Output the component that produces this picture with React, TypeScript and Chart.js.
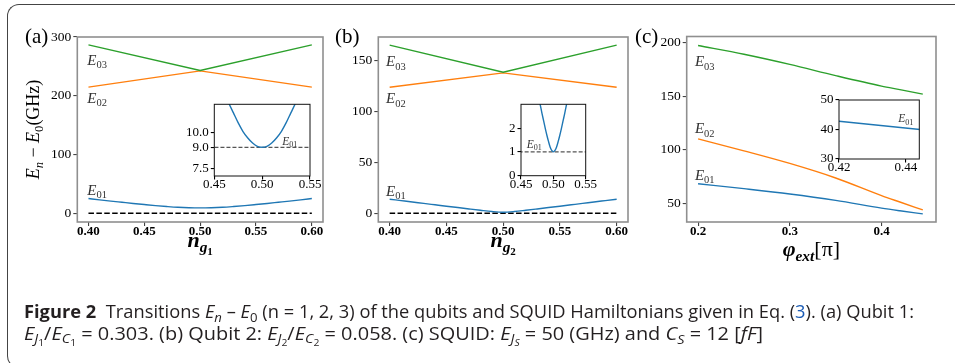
import React, { useEffect, useLayoutEffect, useRef } from 'react';
import { Chart, registerables } from 'chart.js';

Chart.register(...registerables);

const W = 955;
const H = 363;
const SERIF = "'Liberation Serif', 'Times New Roman', serif";
const BLUE = '#1f77b4';
const ORANGE = '#ff7f0e';
const GREEN = '#2ca02c';

// ---------------- data ----------------
const ngGrid = [0.40, 0.41, 0.42, 0.43, 0.44, 0.45, 0.46, 0.47, 0.48, 0.49, 0.50, 0.51, 0.52, 0.53, 0.54, 0.55, 0.56, 0.57, 0.58, 0.59, 0.60];
const ngEnds = [0.40, 0.50, 0.60];
const qubit1E01 = [24.9, 22.7, 20.6, 18.6, 16.6, 14.7, 12.9, 11.4, 10.1, 9.3, 9.0, 9.3, 10.1, 11.4, 12.9, 14.7, 16.6, 18.6, 20.6, 22.7, 24.9];
const qubit1E02 = [214.6, 242.3, 214.6];
const qubit1E03 = [286.7, 243.0, 286.7];
const qubit2E01 = [13.83, 12.46, 11.09, 9.71, 8.34, 6.97, 5.61, 4.26, 2.94, 1.70, 1.0, 1.70, 2.94, 4.26, 5.61, 6.97, 8.34, 9.71, 11.09, 12.46, 13.83];
const qubit2E02 = [124.0, 138.2, 124.0];
const qubit2E03 = [165.5, 138.8, 165.5];
const groundLevel = [0, 0, 0];

const ngZoom1 = [0.450, 0.455, 0.460, 0.465, 0.470, 0.475, 0.480, 0.485, 0.490, 0.495, 0.500, 0.505, 0.510, 0.515, 0.520, 0.525, 0.530, 0.535, 0.540, 0.545, 0.550];
const qubit1E01Zoom = [14.7, 13.8, 12.9, 12.1, 11.4, 10.7, 10.1, 9.65, 9.3, 9.07, 9.0, 9.07, 9.3, 9.65, 10.1, 10.7, 11.4, 12.1, 12.9, 13.8, 14.7];
const qubit1Gap = [9.0, 9.0, 9.0];
const ngZoom2 = [0.4700, 0.4725, 0.4750, 0.4775, 0.4800, 0.4825, 0.4850, 0.4875, 0.4900, 0.4925, 0.4950, 0.4975, 0.5000, 0.5025, 0.5050, 0.5075, 0.5100, 0.5125, 0.5150, 0.5175, 0.5200, 0.5225, 0.5250, 0.5275, 0.5300];
const qubit2E01Zoom = [4.26, 3.92, 3.59, 3.26, 2.94, 2.61, 2.30, 1.99, 1.70, 1.44, 1.21, 1.06, 1.0, 1.06, 1.21, 1.44, 1.70, 1.99, 2.30, 2.61, 2.94, 3.26, 3.59, 3.92, 4.26];
const qubit2Gap = [1.0, 1.0, 1.0];

const phiExt = [0.20, 0.25, 0.30, 0.35, 0.40, 0.42, 0.445];
const squidE01 = [68.1, 63.5, 58.5, 52.5, 45.3, 42.8, 39.9];
const squidE02 = [110.1, 98.9, 87.1, 73.5, 57.0, 51.0, 43.6];
const squidE03 = [197.5, 189.3, 179.8, 169.3, 159.5, 156.2, 152.0];

// ---------------- ticks ----------------
const ngTicks = [0.40, 0.45, 0.50, 0.55, 0.60];
const phiTicks = [0.2, 0.3, 0.4];
const qubit1Ticks = [0, 100, 200, 300];
const qubit2Ticks = [0, 50, 100, 150];
const squidTicks = [50, 100, 150, 200];
const zoomNgTicks = [0.45, 0.50, 0.55];
const zoom1Ticks = [7.5, 9.0, 10.0];
const zoom2Ticks = [0, 1, 2];
const zoomPhiTicks = [0.42, 0.44];
const zoomSquidTicks = [30, 40, 50];

// ---------------- helpers ----------------
type Seg = { t: string; it?: boolean; b?: boolean; lv?: number };
type Label = { x: number; y: number; segs: Seg[]; size: number; color?: string };

function drawRich(ctx: CanvasRenderingContext2D, segs: Seg[], x: number, y: number, size: number, align: string, color = '#000') {
  const scale = [1, 0.7, 0.5];
  const shift = [0, 0.22, 0.36];
  const font = (s: Seg) => `${s.it ? 'italic ' : ''}${s.b ? 'bold ' : ''}${(size * scale[s.lv || 0]).toFixed(2)}px ${SERIF}`;
  let total = 0;
  const ws = segs.map((s) => {
    ctx.font = font(s);
    const w = ctx.measureText(s.t).width;
    total += w;
    return w;
  });
  let cx = align === 'center' ? x - total / 2 : align === 'right' ? x - total : x;
  ctx.save();
  ctx.fillStyle = color;
  ctx.textAlign = 'left';
  ctx.textBaseline = 'alphabetic';
  segs.forEach((s, i) => {
    ctx.font = font(s);
    ctx.fillText(s.t, cx, y + shift[s.lv || 0] * size);
    cx += ws[i];
  });
  ctx.restore();
}

const line = (xs: number[], ys: number[], color: string, extra: any = {}) => ({
  data: xs.map((x, i) => ({ x, y: ys[i] })),
  borderColor: color,
  borderWidth: 1.4,
  pointRadius: 0,
  fill: false,
  tension: 0,
  ...extra,
});
const smooth = { cubicInterpolationMode: 'monotone' };
const dashMain = { borderDash: [5.5, 2.4], borderWidth: 1.5 };
const dashInset = { borderDash: [4, 2], borderWidth: 1.3 };

type Spec = {
  box: number[];
  yW: number;
  xH: number;
  xr: number[];
  yr: number[];
  xTicks: number[];
  yTicks: number[];
  xDec: number;
  yDec: number;
  inset: boolean;
  datasets: any[];
  labels: Label[];
  decor?: (ctx: CanvasRenderingContext2D, a: any) => void;
};

function buildConfig(spec: Spec): any {
  const [l, t, r, b] = spec.box;
  const inset = spec.inset;
  const xFont = inset ? { family: SERIF, size: 13 } : { family: SERIF, size: 13, weight: 'bold' };
  const yFont = inset ? { family: SERIF, size: 13 } : { family: SERIF, size: 13.5 };
  const tickColor = inset ? '#000' : '#444';
  const plugin = {
    id: 'panelDecor',
    beforeDraw(chart: any) {
      if (!inset) return;
      const a = chart.chartArea;
      const ctx = chart.ctx;
      ctx.save();
      ctx.fillStyle = '#fff';
      ctx.fillRect(a.left, a.top, a.right - a.left, a.bottom - a.top);
      ctx.restore();
    },
    afterDatasetsDraw(chart: any) {
      const a = chart.chartArea;
      const ctx = chart.ctx;
      ctx.save();
      ctx.strokeStyle = inset ? '#111' : '#8f8f8f';
      ctx.lineWidth = inset ? 1 : 1.6;
      ctx.strokeRect(a.left, a.top, a.right - a.left, a.bottom - a.top);
      ctx.restore();
    },
    afterDraw(chart: any) {
      const ctx = chart.ctx;
      const xs = chart.scales.x;
      const ys = chart.scales.y;
      spec.labels.forEach((lb) => {
        const px = xs.getPixelForValue(lb.x);
        const py = ys.getPixelForValue(lb.y);
        drawRich(ctx, lb.segs, px, py + 0.33 * lb.size, lb.size, 'left', lb.color || '#333');
      });
      if (spec.decor) spec.decor(ctx, chart.chartArea);
    },
  };
  return {
    type: 'line',
    data: { datasets: spec.datasets },
    options: {
      responsive: false,
      animation: false,
      devicePixelRatio: 1,
      events: [],
      layout: { padding: { left: l - spec.yW, top: t, right: W - r, bottom: H - b - spec.xH } },
      plugins: { legend: { display: false }, tooltip: { enabled: false } },
      scales: {
        x: {
          type: 'linear',
          min: spec.xr[0],
          max: spec.xr[1],
          afterBuildTicks: (s: any) => {
            s.ticks = spec.xTicks.map((v) => ({ value: v }));
          },
          afterFit: (s: any) => {
            s.height = spec.xH;
          },
          ticks: {
            callback: (v: any) => Number(v).toFixed(spec.xDec),
            autoSkip: false,
            maxRotation: 0,
            minRotation: 0,
            font: xFont,
            color: '#000',
            padding: inset ? -2.5 : -2.5,
          },
          grid: { drawOnChartArea: false, drawTicks: true, tickLength: inset ? 3.5 : 4, color: tickColor, lineWidth: 1.1 },
          border: { display: false },
        },
        y: {
          type: 'linear',
          min: spec.yr[0],
          max: spec.yr[1],
          afterBuildTicks: (s: any) => {
            s.ticks = spec.yTicks.map((v) => ({ value: v }));
          },
          afterFit: (s: any) => {
            s.width = spec.yW;
          },
          ticks: {
            callback: (v: any) => Number(v).toFixed(spec.yDec),
            autoSkip: false,
            font: yFont,
            color: '#000',
            padding: 2,
          },
          grid: { drawOnChartArea: false, drawTicks: true, tickLength: inset ? 3.5 : 4, color: tickColor, lineWidth: 1.1 },
          border: { display: false },
        },
      },
    },
    plugins: [plugin],
  };
}

const E = (sub: string): Seg[] => [{ t: 'E', it: true }, { t: sub, lv: 1 }];

const panelLabel = (ctx: CanvasRenderingContext2D, text: string, x: number) => drawRich(ctx, [{ t: text }], x, 43.3, 21, 'left', '#000');

const specs: Spec[] = [
  {
    box: [77.3, 37, 323, 222],
    yW: 40,
    xH: 20,
    xr: [0.39, 0.61],
    yr: [-15, 300],
    xTicks: ngTicks,
    yTicks: qubit1Ticks,
    xDec: 2,
    yDec: 0,
    inset: false,
    datasets: [
      line(ngEnds, qubit1E03, GREEN),
      line(ngEnds, qubit1E02, ORANGE),
      line(ngGrid, qubit1E01, BLUE, smooth),
      line(ngEnds, groundLevel, '#000', dashMain),
    ],
    labels: [
      { x: 0.399, y: 261, segs: E('03'), size: 15 },
      { x: 0.399, y: 196, segs: E('02'), size: 15 },
      { x: 0.399, y: 39.2, segs: E('01'), size: 15 },
    ],
    decor: (ctx, a) => {
      panelLabel(ctx, '(a)', 25);
      drawRich(ctx, [{ t: 'n', it: true, b: true }, { t: 'g', it: true, b: true, lv: 1 }, { t: '1', b: true, lv: 2 }], (a.left + a.right) / 2, a.bottom + 25, 22, 'center');
      ctx.save();
      ctx.translate(a.left - 38, (a.top + a.bottom) / 2);
      ctx.rotate(-Math.PI / 2);
      drawRich(ctx, [{ t: 'E', it: true }, { t: 'n', it: true, lv: 1 }, { t: ' \u2212 ' }, { t: 'E', it: true }, { t: '0', lv: 1 }, { t: '(GHz)' }], 0, 0, 18, 'center');
      ctx.restore();
    },
  },
  {
    box: [378.3, 37, 628, 222],
    yW: 40,
    xH: 20,
    xr: [0.39, 0.61],
    yr: [-8.6, 173.5],
    xTicks: ngTicks,
    yTicks: qubit2Ticks,
    xDec: 2,
    yDec: 0,
    inset: false,
    datasets: [
      line(ngEnds, qubit2E03, GREEN),
      line(ngEnds, qubit2E02, ORANGE),
      line(ngGrid, qubit2E01, BLUE, smooth),
      line(ngEnds, groundLevel, '#000', dashMain),
    ],
    labels: [
      { x: 0.3968, y: 149.6, segs: E('03'), size: 15 },
      { x: 0.3968, y: 113.2, segs: E('02'), size: 15 },
      { x: 0.3968, y: 21.8, segs: E('01'), size: 15 },
    ],
    decor: (ctx, a) => {
      panelLabel(ctx, '(b)', 335);
      drawRich(ctx, [{ t: 'n', it: true, b: true }, { t: 'g', it: true, b: true, lv: 1 }, { t: '2', b: true, lv: 2 }], (a.left + a.right) / 2, a.bottom + 25, 22, 'center');
    },
  },
  {
    box: [686.7, 36.5, 936, 222],
    yW: 40,
    xH: 20,
    xr: [0.1876, 0.4594],
    yr: [32.3, 205.9],
    xTicks: phiTicks,
    yTicks: squidTicks,
    xDec: 1,
    yDec: 0,
    inset: false,
    datasets: [
      line(phiExt, squidE03, GREEN, smooth),
      line(phiExt, squidE02, ORANGE, smooth),
      line(phiExt, squidE01, BLUE, smooth),
    ],
    labels: [
      { x: 0.1966, y: 182.6, segs: E('03'), size: 15 },
      { x: 0.1966, y: 119.8, segs: E('02'), size: 15 },
      { x: 0.1966, y: 76.2, segs: E('01'), size: 15 },
    ],
    decor: (ctx, a) => {
      panelLabel(ctx, '(c)', 635);
      drawRich(ctx, [{ t: '\u03C6', it: true, b: true }, { t: 'ext', it: true, b: true, lv: 1 }, { t: '[\u03C0]' }], (a.left + a.right) / 2, a.bottom + 34, 22, 'center');
    },
  },
  {
    box: [214.3, 104.3, 310, 176],
    yW: 30,
    xH: 18,
    xr: [0.45, 0.55],
    yr: [7.0, 12.0],
    xTicks: zoomNgTicks,
    yTicks: zoom1Ticks,
    xDec: 2,
    yDec: 1,
    inset: true,
    datasets: [line(ngZoom1, qubit1E01Zoom, BLUE, smooth), line(ngEnds, qubit1Gap, '#555', dashInset)],
    labels: [{ x: 0.521, y: 9.44, segs: E('01'), size: 11.5 }],
  },
  {
    box: [521, 104.3, 585.7, 175.7],
    yW: 20,
    xH: 18,
    xr: [0.45, 0.55],
    yr: [0, 3],
    xTicks: zoomNgTicks,
    yTicks: zoom2Ticks,
    xDec: 2,
    yDec: 0,
    inset: true,
    datasets: [line(ngZoom2, qubit2E01Zoom, BLUE, smooth), line(ngEnds, qubit2Gap, '#555', dashInset)],
    labels: [{ x: 0.4588, y: 1.33, segs: E('01'), size: 11.5 }],
  },
  {
    box: [839, 100, 919.3, 159],
    yW: 22,
    xH: 18,
    xr: [0.42, 0.444],
    yr: [30, 50],
    xTicks: zoomPhiTicks,
    yTicks: zoomSquidTicks,
    xDec: 2,
    yDec: 0,
    inset: true,
    datasets: [line(phiExt, squidE01, BLUE)],
    labels: [{ x: 0.4377, y: 43.8, segs: E('01'), size: 11.5 }],
  },
];

function ChartCanvas({ spec }: { spec: Spec }) {
  const ref = useRef<HTMLCanvasElement>(null);
  useEffect(() => {
    const chart = new Chart(ref.current as HTMLCanvasElement, buildConfig(spec));
    return () => chart.destroy();
  }, [spec]);
  return <canvas ref={ref} width={W} height={H} style={{ position: 'absolute', left: 0, top: 0, width: W, height: H }} />;
}

const Sub = ({ children }: { children: any }) => (
  <span style={{ fontSize: '0.72em', verticalAlign: '-0.28em' }}>{children}</span>
);

function Caption() {
  const l1 = useRef<HTMLDivElement>(null);
  const l2 = useRef<HTMLDivElement>(null);
  useLayoutEffect(() => {
    const fit = (el: HTMLDivElement | null, target: number) => {
      if (!el) return;
      el.style.transform = 'none';
      const w = el.getBoundingClientRect().width;
      if (w > 0) el.style.transform = `scaleX(${target / w})`;
    };
    fit(l1.current, 890);
    fit(l2.current, 739);
  }, []);
  const base: any = {
    position: 'absolute',
    left: 23.5,
    whiteSpace: 'nowrap',
    fontFamily: "'Liberation Sans Narrow', 'Open Sans', 'Liberation Sans', sans-serif",
    fontSize: 18,
    lineHeight: '18px',
    color: '#231f20',
    transformOrigin: 'left center',
  };
  return (
    <>
      <div ref={l1} style={{ ...base, top: 302 }}>
        <b>Figure 2</b>&nbsp;&nbsp;Transitions <i>E</i>
        <Sub>
          <i>n</i>
        </Sub>{' '}
        – <i>E</i>
        <Sub>0</Sub> (n = 1, 2, 3) of the qubits and SQUID Hamiltonians given in Eq. (<span style={{ color: '#1a5bb5' }}>3</span>). (a) Qubit 1:
      </div>
      <div ref={l2} style={{ ...base, top: 323.5 }}>
        <i>E</i>
        <Sub>
          <i>J</i>
          <Sub>1</Sub>
        </Sub>
        /<i>E</i>
        <Sub>
          <i>C</i>
          <Sub>1</Sub>
        </Sub>{' '}
        = 0.303. (b) Qubit 2: <i>E</i>
        <Sub>
          <i>J</i>
          <Sub>2</Sub>
        </Sub>
        /<i>E</i>
        <Sub>
          <i>C</i>
          <Sub>2</Sub>
        </Sub>{' '}
        = 0.058. (c) SQUID: <i>E</i>
        <Sub>
          <i>J</i>
          <Sub>
            <i>S</i>
          </Sub>
        </Sub>{' '}
        = 50 (GHz) and <i>C</i>
        <Sub>
          <i>S</i>
        </Sub>{' '}
        = 12 [<i>fF</i>]
      </div>
    </>
  );
}

export default function App() {
  return (
    <div style={{ position: 'absolute', left: 0, top: 0, width: W, height: H, background: '#fff', overflow: 'hidden' }}>
      <div
        style={{
          position: 'absolute',
          left: 6.5,
          top: 3.5,
          width: 1000,
          height: 364,
          boxSizing: 'border-box',
          borderTop: '1.5px solid #444',
          borderLeft: '1.5px solid #444',
          borderBottom: '1.5px solid #444',
          borderTopLeftRadius: 12,
          borderBottomLeftRadius: 12,
        }}
      />
      {specs.map((s, i) => (
        <ChartCanvas key={i} spec={s} />
      ))}
      <Caption />
    </div>
  );
}
